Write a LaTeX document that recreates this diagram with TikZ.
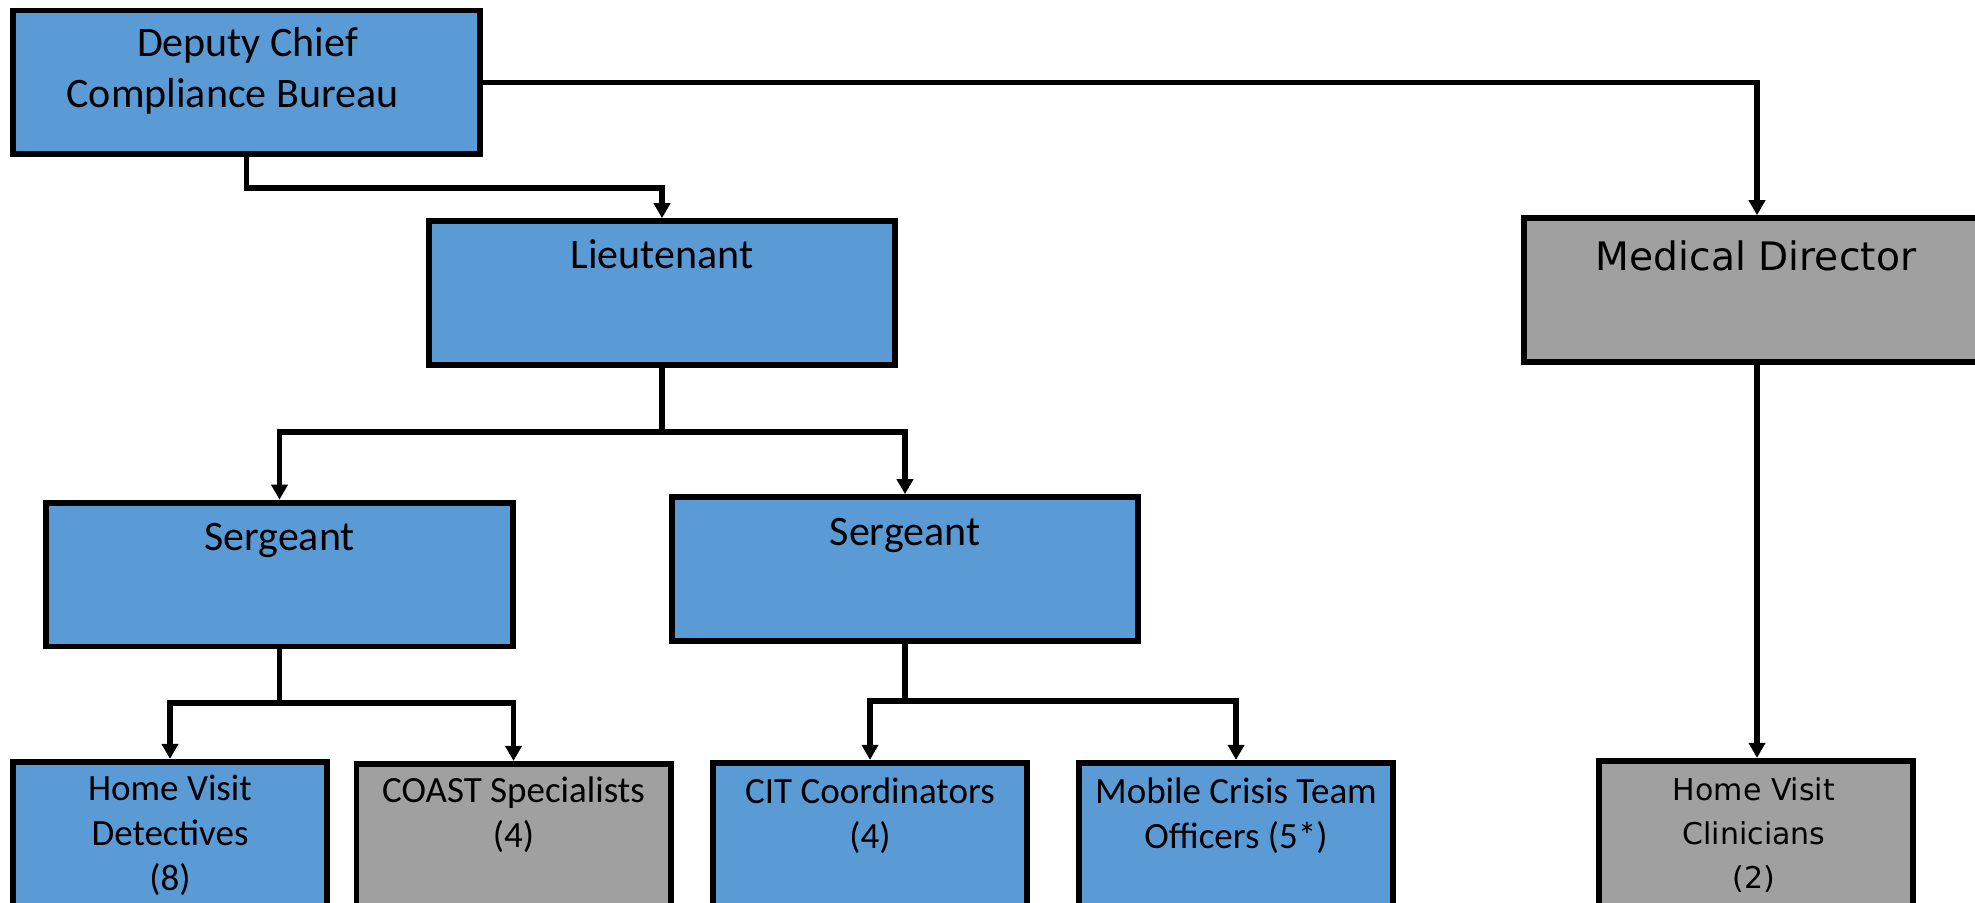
\documentclass[tikz,border=0pt]{standalone}
\usepackage{fontspec}
\setmainfont{Carlito}
\newfontfamily\verdfont{DejaVu Sans}
\usetikzlibrary{arrows.meta}
\definecolor{boxblue}{HTML}{5B9BD5}
\definecolor{boxgray}{HTML}{A0A0A0}
\begin{document}
\begin{tikzpicture}[x=0.5pt,y=-0.5pt,
  bigbox/.style={draw=black, line width=2.9pt, minimum width=233.3pt, minimum height=71.9pt, inner sep=0pt},
  smallbox/.style={draw=black, line width=2.9pt, minimum width=157.1pt, minimum height=82pt, inner sep=0pt, anchor=north},
  bluefill/.style={fill=boxblue},
  grayfill/.style={fill=boxgray},
  link/.style={line width=2.9pt},
  conn/.style={line width=2.9pt, -{Triangle[length=7.5pt,width=8pt]}},
  bigtxt/.style={font=\fontsize{21pt}{25.5pt}\selectfont, align=center, anchor=base, inner sep=0pt},
  smalltxt/.style={font=\fontsize{18.5pt}{22.5pt}\selectfont, align=center, anchor=base, inner sep=0pt},
  medtxt/.style={font=\verdfont\fontsize{19.6pt}{24pt}\selectfont, align=center, anchor=base, inner sep=0pt},
  clintxt/.style={font=\verdfont\fontsize{15pt}{22pt}\selectfont, align=center, anchor=base, inner sep=0pt}
]
\useasboundingbox (0,0) rectangle (1975,903);
\clip (0,0) rectangle (1975,903);

% boxes
\node[bigbox,bluefill] (dep) at (246.5,82.5) {};
\node[bigbox,bluefill] (lt) at (662,293) {};
\node[bigbox,bluefill] (sg1) at (279.5,574.5) {};
\node[bigbox,bluefill] (sg2) at (905,569) {};
\node[bigbox,grayfill] (med) at (1757,290) {};

\node[smallbox,bluefill] (hvd) at (170,758.9) {};
\node[smallbox,grayfill] (coast) at (513.5,760.9) {};
\node[smallbox,bluefill] (cit) at (870,759.9) {};
\node[smallbox,bluefill] (mct) at (1236,759.9) {};
\node[smallbox,grayfill] (hvc) at (1756,757.9) {};

% texts (anchor base = baseline of the last line)
\node[bigtxt] (tdep) at (247.5,108) {Deputy Chief\\Compliance Bureau\rule{15pt}{0pt}};
\node[bigtxt] (tlt) at (662,269) {Lieutenant};
\node[bigtxt] (tsg1) at (279.5,550) {Sergeant};
\node[bigtxt] (tsg2) at (905,545) {Sergeant};
\node[medtxt] (tmed) at (1756,271) {Medical Director};
\node[smalltxt] (thvd) at (170,890) {Home Visit\\Detectives\\(8)};
\node[smalltxt] (tcoast) at (513.5,847) {COAST Specialists\\(4)};
\node[smalltxt] (tcit) at (870,848) {CIT Coordinators\\(4)};
\node[smalltxt] (tmct) at (1236,848) {Mobile Crisis Team\\Officers (5*)};
\node[clintxt] (thvc) at (1754,888) {Home Visit\\Clinicians\\(2)};

% junctions
\coordinate (kD) at (662,188);
\coordinate (kL) at (662,432);
\coordinate (kS1) at (279.5,703);
\coordinate (kS2) at (905,701);

% connectors
\draw[conn] (dep.south) |- (kD) -- (lt.north);
\draw[conn] (dep.east) -| (med.north);
\draw[link] (lt.south) -- (kL);
\draw[conn] (kL) -| (sg1.north);
\draw[conn] (kL) -| (sg2.north);
\draw[link] (sg1.south) -- (kS1);
\draw[conn] (kS1) -| (hvd.north);
\draw[conn] (kS1) -| (coast.north);
\draw[link] (sg2.south) -- (kS2);
\draw[conn] (kS2) -| (cit.north);
\draw[conn] (kS2) -| (mct.north);
\draw[conn] (med.south) -- (med.south |- hvc.north);
\end{tikzpicture}
\end{document}
